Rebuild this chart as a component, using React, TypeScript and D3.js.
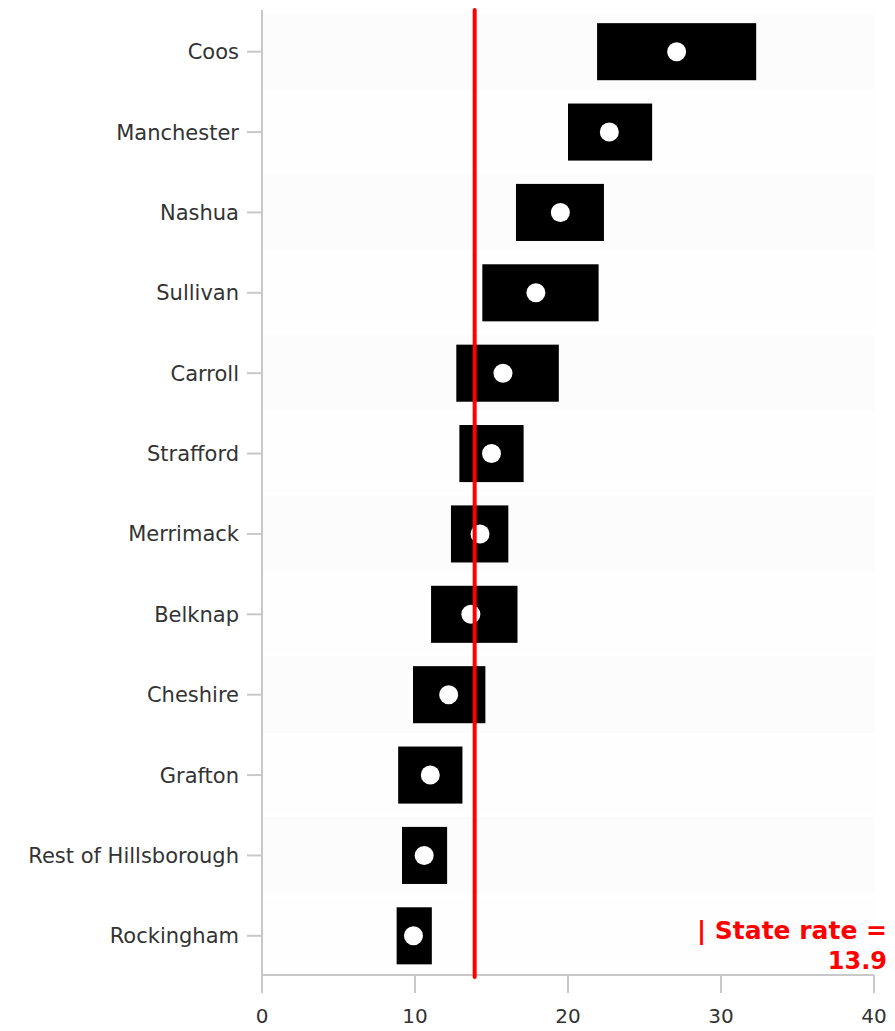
import React from "react";
import * as d3 from "d3";

const categories = [
  "Coos",
  "Manchester",
  "Nashua",
  "Sullivan",
  "Carroll",
  "Strafford",
  "Merrimack",
  "Belknap",
  "Cheshire",
  "Grafton",
  "Rest of Hillsborough",
  "Rockingham",
];
const rates = [27.1, 22.7, 19.5, 17.9, 15.75, 15.0, 14.25, 13.65, 12.2, 11.0, 10.6, 9.9];
const lowerCI = [21.9, 20.0, 16.6, 14.4, 12.7, 12.9, 12.35, 11.05, 9.87, 8.9, 9.15, 8.8];
const upperCI = [32.3, 25.5, 22.35, 22.0, 19.4, 17.1, 16.1, 16.7, 14.6, 13.1, 12.1, 11.1];
const xTicks = [0, 10, 20, 30, 40];
const stateRate = 13.9;

const W = 895;
const H = 1031;
const FONT = "'DejaVu Sans', Verdana, sans-serif";

export default function App() {
  const x = d3.scaleLinear().domain([0, 40]).range([262, 874]);
  const y = d3.scaleBand<string>().domain(categories).range([11.5, 976]).paddingInner(0.29).paddingOuter(0.145);
  const axisY = 975;
  const rows = categories.map((c, i) => ({ c, r: rates[i], lo: lowerCI[i], hi: upperCI[i] }));
  const bw = y.bandwidth();
  const step = y.step();
  return (
    <svg width={W} height={H} style={{ position: "absolute", left: 0, top: 0, background: "#fff" }}>
      {/* faint bands */}
      {rows.map((d, i) => (
        <rect key={"b" + i} x={x(0) + 1} y={(y(d.c) as number) + bw / 2 - step / 2 + 2} width={x(40) - x(0)} height={step - 4} fill={i % 2 === 0 ? "#fcfcfc" : "#fefefe"} />
      ))}
      {/* y axis */}
      <line x1={x(0)} x2={x(0)} y1={10} y2={axisY + 18} stroke="#c8c8c8" strokeWidth={2} />
      {rows.map((d, i) => {
        const cy = (y(d.c) as number) + bw / 2;
        return (
          <g key={"t" + i}>
            <line x1={x(0) - 15} x2={x(0)} y1={cy} y2={cy} stroke="#c8c8c8" strokeWidth={2} />
            <text x={239} y={cy} dy="0.36em" textAnchor="end" fontFamily={FONT} fontSize={21} fill="#333">
              {d.c}
            </text>
          </g>
        );
      })}
      {/* x axis */}
      <line x1={x(0)} x2={x(40)} y1={axisY} y2={axisY} stroke="#c8c8c8" strokeWidth={2} />
      {xTicks.map((t) => (
        <g key={"x" + t}>
          <line x1={x(t)} x2={x(t)} y1={axisY} y2={axisY + 18} stroke="#c8c8c8" strokeWidth={2} />
          <text x={x(t)} y={1023} textAnchor="middle" fontFamily={FONT} fontSize={20} fill="#333">
            {t}
          </text>
        </g>
      ))}
      {/* CI bars */}
      {rows.map((d, i) => (
        <rect key={"r" + i} x={x(d.lo)} y={y(d.c) as number} width={x(d.hi) - x(d.lo)} height={bw} fill="#000" />
      ))}
      {rows.map((d, i) => (
        <circle key={"c" + i} cx={x(d.r)} cy={(y(d.c) as number) + bw / 2} r={9.5} fill="#fff" />
      ))}
      {/* state rate line */}
      <line x1={x(stateRate)} x2={x(stateRate)} y1={10} y2={977} stroke="#ff0000" strokeWidth={4} strokeLinecap="round" />
      <text x={887} y={939} textAnchor="end" fontFamily={FONT} fontWeight="bold" fontSize={25} fill="#ff0000">
        | State rate =
      </text>
      <text x={887} y={969} textAnchor="end" fontFamily={FONT} fontWeight="bold" fontSize={24} fill="#ff0000">
        {stateRate}
      </text>
    </svg>
  );
}
